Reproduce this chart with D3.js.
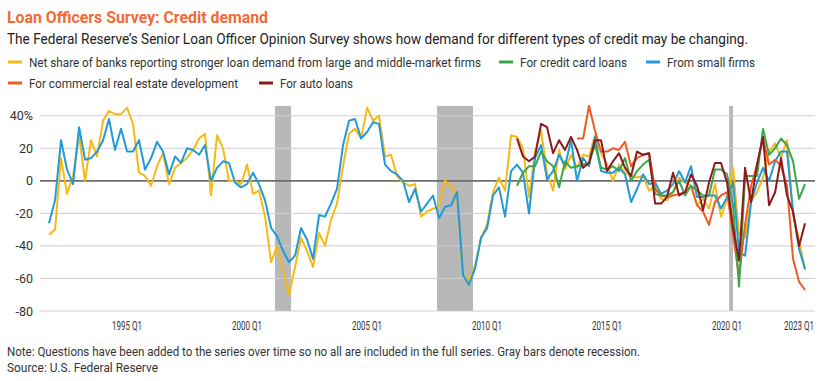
<!DOCTYPE html>
<html>
<head>
<meta charset="utf-8">
<script src="https://cdn.jsdelivr.net/npm/d3@7"></script>
<style>
  body { margin: 0; background: #fff; }
  svg text { font-family: Roboto, "Noto Sans", sans-serif; }
</style>
</head>
<body>
<div id="chart"></div>
<script>
// Net share of banks reporting stronger demand, quarterly, starting 1991 Q4
const largeFirms = [
  -33, -30, 14, -8, 3, 28, 0, 25, 15, 37, 43, 41, 41, 45, 35, 5, 3, -3, 9, 17,
  -2, 8, 11, 14, 19, 26, 29, -9, 28, 20, 0, 0, -2, 10, -8, -6, -22, -50, -40, -55,
  -70, -53, -35, -43, -53, -32, -40, -24, -14, 9, 29, 32, 26, 45, 37, 40, 15, 16, 3, -1,
  -3, -2, -22, -19, -17, -16, 0, -3, -10, -58, -61, -52, -35, -27, -7, 2, -6, 28, 27, 20,
  -10, 18, 31, 5, -6, 19, 7, 16, 8, 16, 15, 28, 17, 10, 0, 10, 5, 3, 2, 3,
  -6, -3, -11, -12, -7, 2, -1, -3, -15, -11, -17, -2, -22, -11, 8, -33, -35, -12, -7, 2,
  18, 23, 14, 25, -21, -36, -55
];
const smallFirms = [
  -26, -12, 25, 7, -2, 33, 13, 14, 18, 25, 38, 19, 32, 18, 18, 25, 7, 14, 24, 18,
  4, 15, 11, 20, 19, 16, 22, 0, 8, 12, 11, -1, -4, -2, 5, -2, -12, -29, -34, -43,
  -50, -46, -29, -36, -48, -21, -22, -14, -5, 22, 37, 38, 26, 30, 36, 35, 10, 6, 4, 0,
  -13, -5, -19, -14, -9, -23, -16, -15, -7, -58, -64, -54, -35, -29, -9, -4, -22, 6, 10, 5,
  -20, 14, 22, 1, 6, 16, 9, 25, 0, 14, 9, 27, 6, 5, 5, 8, 4, -13, -5, 4,
  -2, -1, -8, -6, -2, 6, -1, 9, -10, -10, -9, -9, -17, -10, -1, -44, -46, -13, -1, 8,
  0, 12, 18, 18, -19, -42, -54
];
// starting 2011 Q2
const creditCard = [
  -3, 5, 9, 9, 18, 12, 9, -4, 12, 8, 9, 10, 11, 22, 8, 7, 9, 6, 14, 0,
  6, 10, 13, -8, -9, -9, -7, 0, -9, -3, -6, -9, -9, 7, 7, 4, -15, -65, 3, 3,
  3, 32, 16, 20, 26, 22, 12, -11, -2
];
const autoLoans = [
  26, 15, 12, 15, 35, 33, 17, 25, 19, 27, 19, 8, 11, 25, 25, 6, 12, 17, 8, 3,
  18, 16, 17, -14, -14, -10, 5, -9, -7, 4, -3, -18, -1, 11, 11, -1, -29, -49, 8, -13,
  10, 27, -15, -7, 14, -9, -19, -40, -26
];
// starting 2013 Q4
const creDevelopment = [
  26, 26, 46, 31, 18, 18, 20, 19, 24, 9, 14, 16, 17, -5, -9, -10, -9, -8, -7, -3,
  -15, -19, -27, -13, -9, -7, -33, -59, -27, -3, 10, 26, 10, 13, 9, -3, -48, -62, -67
];

const seriesNames = [
  "Net share of banks reporting stronger loan demand from large and middle-market firms",
  "For credit card loans",
  "From small firms",
  "For commercial real estate development",
  "For auto loans"
];
const seriesStart = ["1991 Q4", "2011 Q2", "1991 Q4", "2013 Q4", "2011 Q2"];
const seriesValues = [largeFirms, creditCard, smallFirms, creDevelopment, autoLoans];
const seriesColors = ["#f6b915", "#3aa84a", "#219bd8", "#f05a24", "#8c1a1b"];
const drawOrder = [0, 2, 3, 1, 4];

const recessions = [["2001-03-01", "2001-11-01"], ["2007-12-01", "2009-06-01"], ["2020-02-01", "2020-04-01"]];
const tickLabels = ["1995 Q1", "2000 Q1", "2005 Q1", "2010 Q1", "2015 Q1", "2020 Q1", "2023 Q1"];
const yTicks = [40, 20, 0, -20, -40, -60, -80];

const width = 830, height = 381;

const parseQ = s => {
  const [yr, q] = s.split(" Q");
  return new Date(+yr, (+q - 1) * 3, 1);
};
const addQ = (d, n) => new Date(d.getFullYear(), d.getMonth() + 3 * n, 1);

const x = d3.scaleTime()
  .domain([parseQ("1991 Q4"), parseQ("2023 Q2")])
  .range([49, 805]);

const y = d3.scaleLinear()
  .domain([-80, 46])
  .range([311, 106]);

const svg = d3.select('#chart').append('svg')
  .attr('width', width)
  .attr('height', height);

// squeeze text into the narrow width of the original condensed face
const squeeze = (sel, w) => sel.attr('textLength', w).attr('lengthAdjust', 'spacingAndGlyphs');

svg.append('text')
  .attr('x', 7).attr('y', 23)
  .attr('fill', '#f26a36')
  .attr('font-size', 16.5).attr('font-weight', 700)
  .text("Loan Officers Survey: Credit demand")
  .call(squeeze, 261);

svg.append('text')
  .attr('x', 7).attr('y', 44)
  .attr('fill', '#222')
  .attr('font-size', 15)
  .text("The Federal Reserve\u2019s Senior Loan Officer Opinion Survey shows how demand for different types of credit may be changing.")
  .call(squeeze, 741);

// legend
const legendLayout = [
  {x: 8, y: 62, w: 452}, {x: 499, y: 62, w: 107}, {x: 646, y: 62, w: 88},
  {x: 8, y: 83, w: 209}, {x: 259, y: 83, w: 73}
];
const legend = svg.append('g').selectAll('g')
  .data(seriesNames)
  .join('g')
  .attr('transform', (d, i) => `translate(${legendLayout[i].x},${legendLayout[i].y})`);

legend.append('line')
  .attr('x1', 0).attr('x2', 14)
  .attr('stroke', (d, i) => seriesColors[i])
  .attr('stroke-width', 3);

legend.append('text')
  .attr('x', 21).attr('y', 4.5)
  .attr('font-size', 13)
  .attr('fill', '#333')
  .text(d => d)
  .each(function (d, i) { d3.select(this).call(squeeze, legendLayout[i].w); });

// recession bars
svg.append('g').selectAll('rect')
  .data(recessions)
  .join('rect')
  .attr('x', d => x(new Date(d[0])))
  .attr('width', d => x(new Date(d[1])) - x(new Date(d[0])))
  .attr('y', y(46))
  .attr('height', y(-80) - y(46))
  .attr('fill', '#b8b8b8');

// gridlines + y labels
const grid = svg.append('g');
grid.selectAll('line')
  .data(yTicks)
  .join('line')
  .attr('x1', 40).attr('x2', 815)
  .attr('y1', d => y(d)).attr('y2', d => y(d))
  .attr('stroke', d => d === 0 ? '#6e6e6e' : '#cfcfcf')
  .attr('stroke-width', d => d === 0 ? 1.6 : 1);

grid.selectAll('text')
  .data(yTicks)
  .join('text')
  .attr('x', 33)
  .attr('y', d => y(d) + 4.5)
  .attr('text-anchor', 'end')
  .attr('font-size', 12.5)
  .attr('fill', '#333')
  .text(d => d === 40 ? '40%' : d);

// x labels
svg.append('g').selectAll('text')
  .data(tickLabels)
  .join('text')
  .attr('x', d => x(parseQ(d)) - 15)
  .attr('y', 330)
  .attr('font-size', 12)
  .attr('fill', '#333')
  .text(d => d)
  .call(squeeze, 30);

// series
const line = d3.line()
  .x(d => x(d.date))
  .y(d => y(d.value));

drawOrder.forEach(k => {
  const start = parseQ(seriesStart[k]);
  const pts = seriesValues[k].map((v, i) => ({date: addQ(start, i), value: v}));
  svg.append('path')
    .datum(pts)
    .attr('fill', 'none')
    .attr('stroke', seriesColors[k])
    .attr('stroke-width', 2)
    .attr('stroke-linejoin', 'round')
    .attr('d', line);
});

svg.append('text')
  .attr('x', 7).attr('y', 356)
  .attr('font-size', 12.5)
  .attr('fill', '#333')
  .text("Note: Questions have been added to the series over time so no all are included in the full series. Gray bars denote recession.")
  .call(squeeze, 633);

svg.append('text')
  .attr('x', 7).attr('y', 372)
  .attr('font-size', 12.5)
  .attr('fill', '#333')
  .text("Source: U.S. Federal Reserve")
  .call(squeeze, 151);
</script>
</body>
</html>
